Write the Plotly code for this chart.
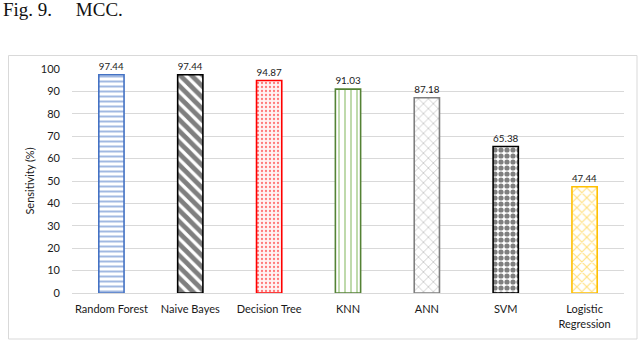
import plotly.graph_objects as go

categories = ["Random Forest", "Naive Bayes", "Decision Tree", "KNN", "ANN", "SVM", "Logistic<br>Regression"]
values = [97.44, 97.44, 94.87, 91.03, 87.18, 65.38, 47.44]
value_labels = ["97.44", "97.44", "94.87", "91.03", "87.18", "65.38", "47.44"]
y_ticks = [0, 10, 20, 30, 40, 50, 60, 70, 80, 90, 100]

pattern_shapes = ["-", "\\", ".", "|", "x", ".", "x"]
pattern_colors = ["#4472c4", "#000000", "#ff0000", "#70ad47", "#7f7f7f", "#000000", "#ffc000"]
pattern_bg = ["white", "white", "#fff2f2", "white", "white", "white", "white"]
outline_colors = ["#4472c4", "#000000", "#ff0000", "#548235", "#7f7f7f", "#000000", "#ffc000"]
pattern_sizes = [5, 8, 4, 6, 7, 6, 7]
pattern_solidity = [0.4, 0.6, 0.25, 0.3, 0.2, 0.6, 0.3]

W, H = 640, 341
L, R, T, B = 72, 16, 69, 48
pw, ph = W - L - R, H - T - B

def px(x):
    return (x - L) / pw

def py(y):
    return (H - B - y) / ph

fig = go.Figure()
fig.add_trace(go.Bar(
    x=categories,
    y=values,
    text=value_labels,
    textposition="outside",
    cliponaxis=False,
    textfont=dict(family="Lato, sans-serif", size=11, color="#1a1a1a"),
    marker=dict(
        color="white",
        line=dict(color=outline_colors, width=1.6),
        pattern=dict(
            shape=pattern_shapes,
            fgcolor=pattern_colors,
            bgcolor=pattern_bg,
            size=pattern_sizes,
            solidity=pattern_solidity,
            fillmode="overlay",
        ),
    ),
    width=0.32,
))

fig.update_layout(
    width=W, height=H,
    margin=dict(l=L, r=R, t=T, b=B, pad=0),
    paper_bgcolor="white",
    plot_bgcolor="white",
    showlegend=False,
    font=dict(family="Lato, sans-serif", size=11, color="#1a1a1a"),
    xaxis=dict(
        automargin=False,
        showgrid=False,
        showline=True,
        linecolor="#d9d9d9",
        linewidth=1,
        ticks="",
        tickfont=dict(size=11, color="#1a1a1a"),
        ticklabelstandoff=6,
    ),
    yaxis=dict(
        automargin=False,
        range=[0, 100],
        tickvals=y_ticks,
        showgrid=True,
        gridcolor="#d9d9d9",
        gridwidth=1,
        zeroline=False,
        ticks="",
        tickfont=dict(size=11, color="#1a1a1a"),
        ticklabelstandoff=11,
        title=dict(text="Sensitivity (%)", font=dict(size=11, color="#1a1a1a"), standoff=4),
    ),
    shapes=[
        dict(type="rect", xref="paper", yref="paper",
             x0=px(8.5), x1=px(637), y0=py(55.5), y1=py(339),
             line=dict(color="#d9d9d9", width=1), fillcolor="rgba(0,0,0,0)", layer="below"),
    ],
    annotations=[
        dict(text="Fig. 9.&nbsp;&nbsp;&nbsp;&nbsp;&nbsp;MCC.", xref="paper", yref="paper",
             x=px(1), y=py(9), xanchor="left", yanchor="middle", showarrow=False,
             font=dict(family="Liberation Serif, Times New Roman, serif", size=19, color="#111111")),
    ],
)

fig.write_html("out.html", config={"displayModeBar": False},
               post_script="document.body.style.margin='0';")
